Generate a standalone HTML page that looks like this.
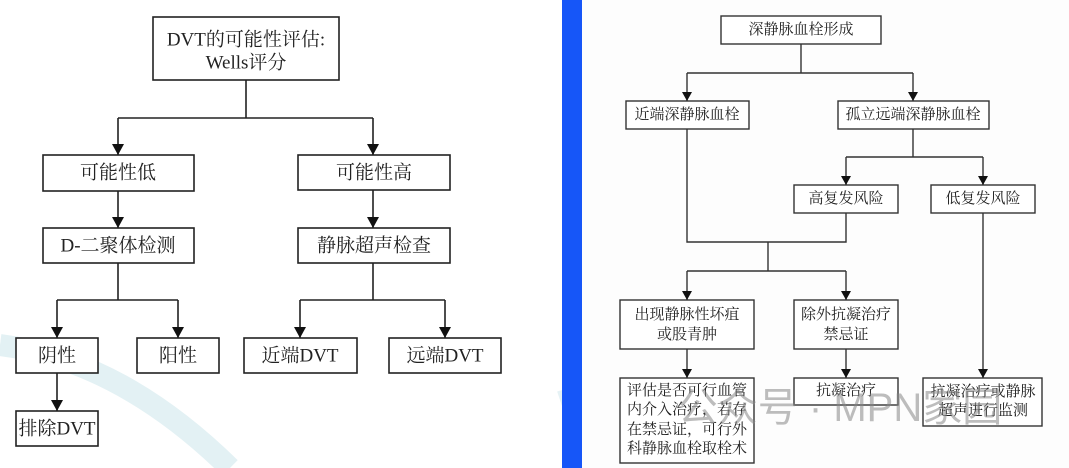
<!DOCTYPE html>
<html><head><meta charset="utf-8"><style>
html,body{margin:0;padding:0;background:#fff;}
svg{display:block}
text{font-family:"Liberation Serif","Noto Serif CJK SC",serif;fill:#222;text-anchor:middle;dominant-baseline:central}
</style></head><body>
<svg width="1069" height="468" viewBox="0 0 1069 468" xmlns="http://www.w3.org/2000/svg">
<defs><marker id="a" markerWidth="12" markerHeight="12" refX="11" refY="6" orient="auto" markerUnits="userSpaceOnUse"><path d="M0,0 L11,6 L0,12 Z" fill="#111"/></marker>
<marker id="b" markerWidth="10" markerHeight="10" refX="9" refY="5" orient="auto" markerUnits="userSpaceOnUse"><path d="M0,0 L9,5 L0,10 Z" fill="#111"/></marker></defs>
<rect x="0" y="0" width="1069" height="468" fill="#fff"/>
<path d="M0,345 Q120,360 230,468" stroke="#e3f1f4" stroke-width="22" fill="none"/>
<path d="M560,400 Q620,380 700,460" stroke="#e6f2f5" stroke-width="18" fill="none"/>
<rect x="562" y="0" width="20" height="468" fill="#1656f8"/>
<rect x="582" y="0" width="487" height="468" fill="#fdfdfd"/>
<g stroke="#222" stroke-width="1.6" fill="#fff">
<rect x="153" y="17" width="186" height="63"/>
<rect x="43" y="155" width="151" height="36"/>
<rect x="298" y="155" width="152" height="35"/>
<rect x="43" y="228" width="151" height="35"/>
<rect x="298" y="228" width="152" height="35"/>
<rect x="16" y="338" width="82" height="35"/>
<rect x="137" y="338" width="82" height="35"/>
<rect x="244" y="338" width="113" height="35"/>
<rect x="389" y="338" width="112" height="35"/>
<rect x="16" y="411" width="82" height="35"/>
</g>
<g stroke="#222" stroke-width="1.6" fill="none">
<path d="M246,80 V118 M118,118 H373"/>
<path d="M118,118 V155" marker-end="url(#a)"/>
<path d="M373,118 V155" marker-end="url(#a)"/>
<path d="M118,191 V228" marker-end="url(#a)"/>
<path d="M373,190 V228" marker-end="url(#a)"/>
<path d="M118,263 V300 M57,300 H178 M373,263 V300 M300,300 H445"/>
<path d="M57,300 V338" marker-end="url(#a)"/>
<path d="M178,300 V338" marker-end="url(#a)"/>
<path d="M300,300 V338" marker-end="url(#a)"/>
<path d="M445,300 V338" marker-end="url(#a)"/>
<path d="M57,373 V411" marker-end="url(#a)"/>
</g>
<g font-size="19">
<text x="246" y="40">DVT的可能性评估:</text>
<text x="246" y="63">Wells评分</text>
<text x="118" y="173">可能性低</text>
<text x="374" y="173">可能性高</text>
<text x="118" y="246">D-二聚体检测</text>
<text x="374" y="246">静脉超声检查</text>
<text x="57" y="356">阴性</text>
<text x="178" y="356">阳性</text>
<text x="300" y="356">近端DVT</text>
<text x="445" y="356">远端DVT</text>
<text x="57" y="429">排除DVT</text>
</g>
<g stroke="#333" stroke-width="1.4" fill="#fff">
<rect x="721" y="16" width="160" height="28"/>
<rect x="626" y="101" width="123" height="28"/>
<rect x="838" y="101" width="151" height="28"/>
<rect x="794" y="185" width="104" height="28"/>
<rect x="931" y="185" width="104" height="28"/>
<rect x="620" y="300" width="134" height="49"/>
<rect x="794" y="300" width="104" height="49"/>
<rect x="620" y="378" width="134" height="85"/>
<rect x="794" y="378" width="104" height="27"/>
<rect x="923" y="378" width="119" height="48"/>
</g>
<g stroke="#333" stroke-width="1.4" fill="none">
<path d="M801,44 V73 M687,73 H913"/>
<path d="M687,73 V101" marker-end="url(#b)"/>
<path d="M913,73 V101" marker-end="url(#b)"/>
<path d="M913,129 V157 M846,157 H983"/>
<path d="M846,157 V185" marker-end="url(#b)"/>
<path d="M983,157 V185" marker-end="url(#b)"/>
<path d="M687,129 V242 H846 V213 M768,242 V271 M687,271 H846"/>
<path d="M687,271 V300" marker-end="url(#b)"/>
<path d="M846,271 V300" marker-end="url(#b)"/>
<path d="M687,349 V378" marker-end="url(#b)"/>
<path d="M846,349 V378" marker-end="url(#b)"/>
<path d="M983,213 V378" marker-end="url(#b)"/>
</g>
<g font-size="15">
<text x="801" y="30">深静脉血栓形成</text>
<text x="687" y="115">近端深静脉血栓</text>
<text x="913" y="115">孤立远端深静脉血栓</text>
<text x="846" y="199">高复发风险</text>
<text x="983" y="199">低复发风险</text>
<text x="687" y="315">出现静脉性坏疽</text>
<text x="687" y="335">或股青肿</text>
<text x="846" y="315">除外抗凝治疗</text>
<text x="846" y="335">禁忌证</text>
<text x="687" y="391">评估是否可行血管</text>
<text x="687" y="410">内介入治疗，若存</text>
<text x="687" y="430">在禁忌证，可行外</text>
<text x="687" y="449">科静脉血栓取栓术</text>
<text x="846" y="391">抗凝治疗</text>
<text x="983" y="392">抗凝治疗或静脉</text>
<text x="983" y="411">超声进行监测</text>
</g>
<text x="840" y="408" font-size="40" style="font-family:'Liberation Sans','Noto Sans CJK SC',sans-serif;fill:#888;opacity:0.55">公众号 · MPN家园</text>
</svg>
</body></html>
